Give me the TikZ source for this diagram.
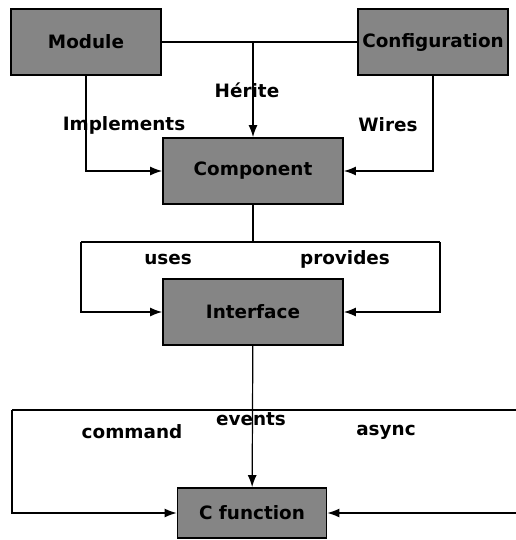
\documentclass[tikz,border=0pt]{standalone}
\usepackage{fontspec}
\setmainfont{DejaVu Sans}
\usetikzlibrary{arrows.meta,positioning,calc}

\begin{document}
\begin{tikzpicture}[
  x=0.5pt, y=-0.5pt,
  box/.style={draw, line width=0.9pt, fill=black!48, inner sep=1pt, align=center,
              font=\fontsize{9.2}{11}\selectfont\bfseries},
  lbl/.style={font=\fontsize{9.2}{11}\selectfont\bfseries, inner sep=1pt},
  >={Latex[length=6pt,width=4.5pt]}, line width=0.6pt
]
  \useasboundingbox (0,0) rectangle (515,540);

  \node[box, minimum width=75pt, minimum height=33pt]   (module) at (86,42)   {Module};
  \node[box, minimum width=75pt, minimum height=33pt]   (config) at (433,42)  {Configuration};
  \node[box, minimum width=90pt, minimum height=33pt]   (comp)   at (253,171) {Component};
  \node[box, minimum width=90pt, minimum height=33pt]   (iface)  at (253,312) {Interface};
  \node[box, minimum width=74.5pt, minimum height=25pt] (cfun)   at (252,513) {C function};

  % inheritance / implementation / wiring
  \coordinate (herit) at (253,42);
  \draw (module) -- (config);
  \draw[->] (herit) -- (comp);
  \draw[->] (module.south) |- (comp.west);
  \draw[->] (config.south) |- (comp.east);
  \node[lbl] (lherit) at (247,90)  {Hérite};
  \node[lbl] (limpl)  at (124,125) {Implements};
  \node[lbl] (lwire)  at (388,125) {Wires};

  % uses / provides
  \coordinate (usesL) at (81,242);
  \coordinate (provR) at (440,242);
  \draw (comp.south) -- (comp.south |- usesL);
  \draw (usesL) -- (provR);
  \draw[->] (usesL) |- (iface.west);
  \draw[->] (provR) |- (iface.east);
  \node[lbl] (luses) at (168,259) {uses};
  \node[lbl] (lprov) at (345,259) {provides};

  % command / events / async
  \coordinate (cmdL) at (12,410);
  \coordinate (asyR) at (530,410);
  \draw (cmdL) -- (asyR);
  \draw[->] (iface) -- (cfun);
  \draw[->] (cmdL) |- (cfun.west);
  \draw[->] (asyR) |- (cfun.east);
  \node[lbl] (levt) at (251,419) {events};
  \node[lbl] (lcmd) at (132,432) {command};
  \node[lbl] (lasy) at (386,432) {async};
\end{tikzpicture}
\end{document}
